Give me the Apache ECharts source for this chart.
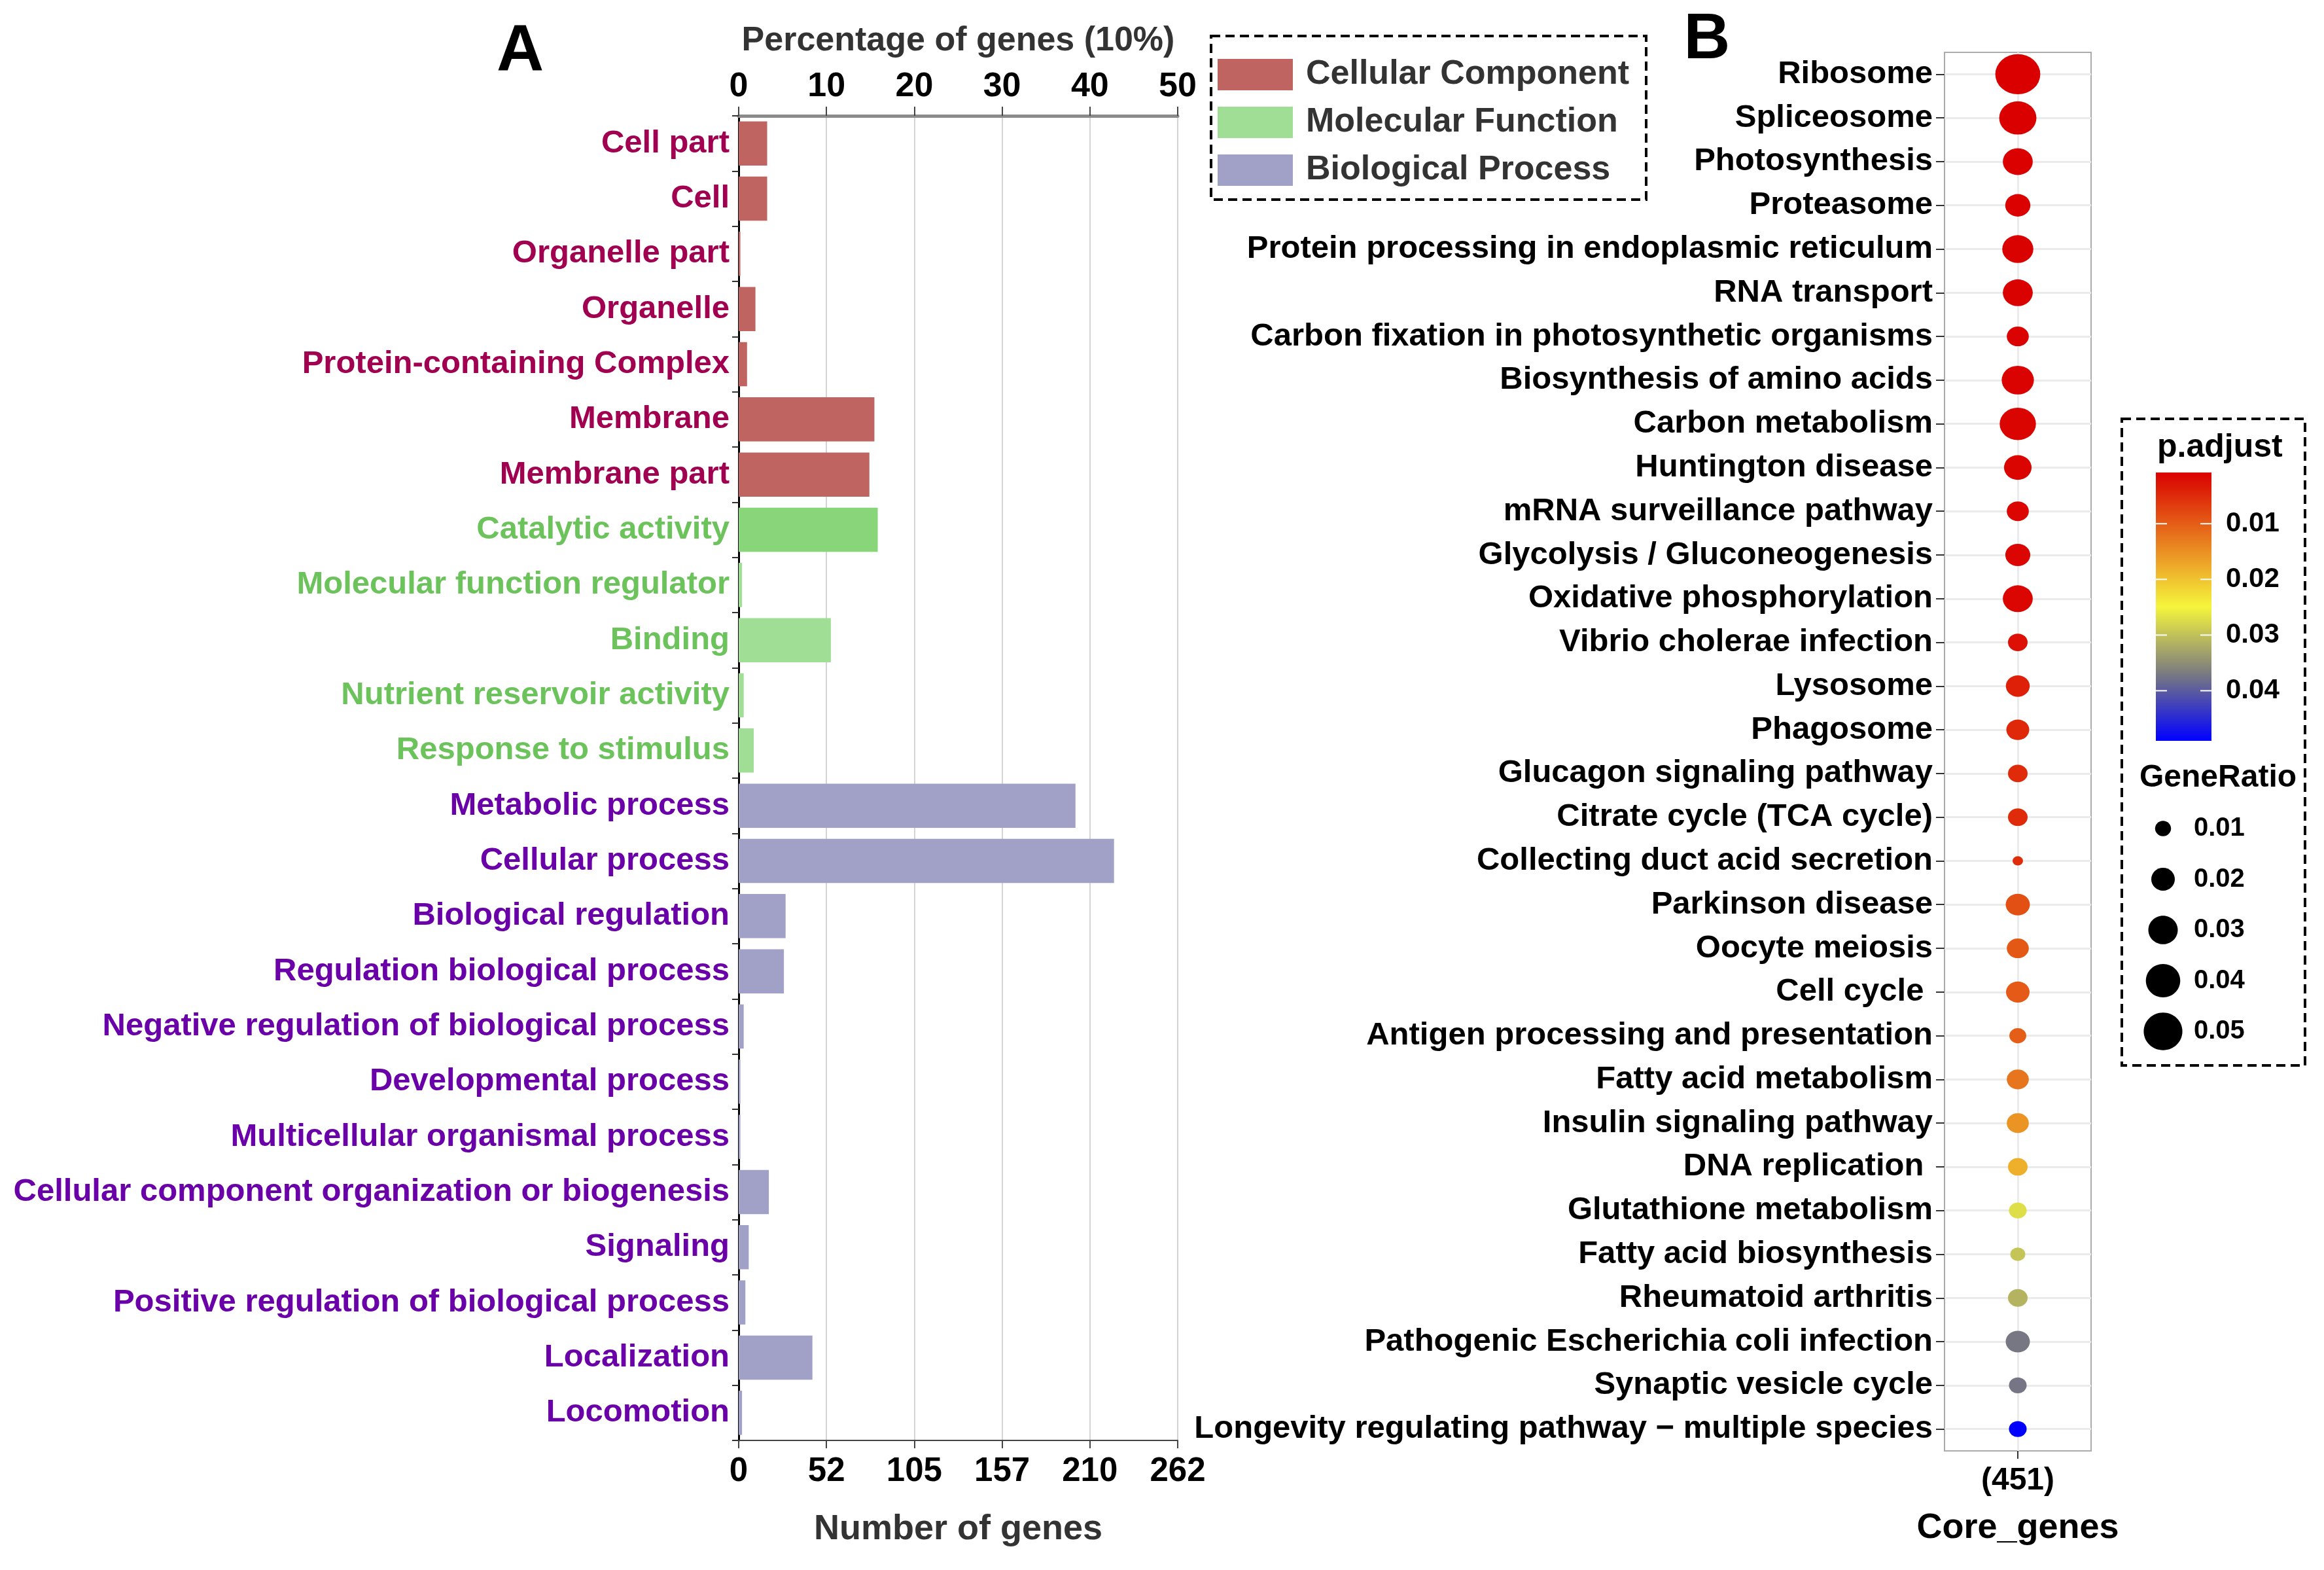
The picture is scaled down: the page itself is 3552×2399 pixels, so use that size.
<!DOCTYPE html>
<html><head><meta charset="utf-8">
<script src="https://cdn.jsdelivr.net/npm/echarts@6/dist/echarts.min.js"></script>
<style>html,body{margin:0;padding:0;background:#fff}#c{width:3552px;height:2399px}</style>
</head><body><div id="c"></div>
<script>
// ---------- Panel A data ----------
const goTerms = ['Cell part','Cell','Organelle part','Organelle','Protein-containing Complex','Membrane','Membrane part',
  'Catalytic activity','Molecular function regulator','Binding','Nutrient reservoir activity','Response to stimulus',
  'Metabolic process','Cellular process','Biological regulation','Regulation biological process',
  'Negative regulation of biological process','Developmental process','Multicellular organismal process',
  'Cellular component organization or biogenesis','Signaling','Positive regulation of biological process',
  'Localization','Locomotion'];
const goCounts = [17,17,1,10,5,81,78, 83,2,55,3,9, 201,224,28,27,3,1,1,18,6,4,44,2];
const goGroups = [0,0,0,0,0,0,0, 1,1,1,1,1, 2,2,2,2,2,2,2,2,2,2,2,2];
const groupNames = ['Cellular Component','Molecular Function','Biological Process'];
const countTicksMax = 262;
const pctTicksMax = 50;

// ---------- Panel B data ----------
const pathways = ['Ribosome','Spliceosome','Photosynthesis','Proteasome','Protein processing in endoplasmic reticulum',
  'RNA transport','Carbon fixation in photosynthetic organisms','Biosynthesis of amino acids','Carbon metabolism',
  'Huntington disease','mRNA surveillance pathway','Glycolysis / Gluconeogenesis','Oxidative phosphorylation',
  'Vibrio cholerae infection','Lysosome','Phagosome','Glucagon signaling pathway','Citrate cycle (TCA cycle)',
  'Collecting duct acid secretion','Parkinson disease','Oocyte meiosis','Cell cycle ','Antigen processing and presentation',
  'Fatty acid metabolism','Insulin signaling pathway','DNA replication ','Glutathione metabolism','Fatty acid biosynthesis',
  'Rheumatoid arthritis','Pathogenic Escherichia coli infection','Synaptic vesicle cycle',
  'Longevity regulating pathway \u2212 multiple species'];
const geneRatio = [0.0665,0.0466,0.0310,0.0225,0.0333,0.0310,0.0177,0.0355,0.0443,0.0266,0.0177,0.0222,0.0310,
  0.0144,0.0205,0.0190,0.0144,0.0144,0.0049,0.0210,0.0177,0.0200,0.0111,0.0177,0.0177,0.0144,0.0120,0.0089,
  0.0144,0.0210,0.0120,0.0120];
const pAdjust = [0.0008,0.0008,0.0009,0.0009,0.0010,0.0010,0.0011,0.0011,0.0012,0.0012,0.0013,0.0013,0.0014,
  0.0024,0.0040,0.0048,0.0050,0.0050,0.0052,0.0087,0.0095,0.0097,0.0101,0.0124,0.0154,0.0180,0.0272,0.0296,
  0.0313,0.0372,0.0374,0.0490];
const coreLabel = ['(451)'];
const pTicks = [0.01,0.02,0.03,0.04];
const ratioTicks = [0.01,0.02,0.03,0.04,0.05];

// ---------- styles ----------
const FF = '"Liberation Sans", Arial, Helvetica, sans-serif';
const barColors = ['#C06462','#A0DE96','#A1A0C7'];
const catalyticColor = '#89D67A';
const labelColors = ['#A0004F','#6CC35C','#6A00A8'];
const pColors = ['#DA0000','#E87A1E','#F5F53C','#7A7A80','#0000FF'];
const pMin = 0.0008, pMax = 0.049;
const sizeOf = r => 281 * Math.sqrt(r) - 3.7;
const dotAspect = 1.12;

const chart = echarts.init(document.getElementById('c'), null, {renderer: 'canvas'});

const barSeries = groupNames.map((gname, g) => ({
  name: gname,
  type: 'bar',
  stack: 'go',
  xAxisIndex: 0, yAxisIndex: 0,
  barWidth: '80%',
  itemStyle: {color: barColors[g]},
  data: goCounts.map((v, i) => goGroups[i] !== g ? '-' :
    (goTerms[i] === 'Catalytic activity' ? {value: v, itemStyle: {color: catalyticColor}} : v))
}));

// colorbar geometry
const cb = {x: 3295, y: 722, w: 85, h: 410};
const pToY = p => cb.y + (p - pMin) / (pMax - pMin) * cb.h;
const graphics = [
  {type:'text', style:{text:'A', x:795, y:80, font:'bold 100px ' + FF, fill:'#000', align:'center', verticalAlign:'middle'}},
  {type:'text', style:{text:'B', x:2609, y:62, font:'bold 98px ' + FF, fill:'#000', align:'center', verticalAlign:'middle'}},
  {type:'rect', shape:{x:1851, y:55, width:665, height:250}, style:{fill:'none', stroke:'#000', lineWidth:4, lineDash:[14,8]}},
  {type:'rect', shape:{x:3243, y:640, width:280, height:988}, style:{fill:'none', stroke:'#000', lineWidth:4, lineDash:[14,8]}},
  {type:'text', style:{text:'p.adjust', x:3297, y:684, font:'bold 50px ' + FF, fill:'#000', align:'left', verticalAlign:'middle'}},
  {type:'rect', shape:{x:cb.x, y:cb.y, width:cb.w, height:cb.h}, style:{
    fill: new echarts.graphic.LinearGradient(0,0,0,1, pColors.map((c,i)=>({offset:i/(pColors.length-1), color:c})))}},
  {type:'text', style:{text:'GeneRatio', x:3270, y:1189, font:'bold 48px ' + FF, fill:'#000', align:'left', verticalAlign:'middle'}}
];
pTicks.forEach(p => {
  const y = pToY(p);
  graphics.push({type:'line', shape:{x1:cb.x, y1:y, x2:cb.x+17, y2:y}, style:{stroke:'#fff', lineWidth:2}});
  graphics.push({type:'line', shape:{x1:cb.x+cb.w-17, y1:y, x2:cb.x+cb.w, y2:y}, style:{stroke:'#fff', lineWidth:2}});
  graphics.push({type:'text', style:{text:p.toFixed(2), x:3402, y:y, font:'bold 42px ' + FF, fill:'#000', align:'left', verticalAlign:'middle'}});
});
ratioTicks.forEach((r, i) => {
  const y = 1266 + i * 77.5;
  const d = sizeOf(r);
  graphics.push({type:'ellipse', shape:{cx:3306, cy:y, rx:d/2, ry:d/2/1.03}, style:{fill:'#000'}});
  graphics.push({type:'text', style:{text:r.toFixed(2), x:3353, y:y, font:'bold 40px ' + FF, fill:'#000', align:'left', verticalAlign:'middle'}});
});

const option = {
  backgroundColor: '#fff',
  animation: false,
  textStyle: {fontFamily: FF},
  grid: [
    {left: 1129, top: 177, width: 671, height: 2024, show: true, borderColor: '#444', borderWidth: 2, backgroundColor: 'transparent'},
    {left: 2972, top: 80, width: 224, height: 2137, show: true, borderColor: '#ABABAB', borderWidth: 2}
  ],
  legend: {
    data: groupNames,
    orient: 'vertical',
    left: 1861, top: 88,
    itemWidth: 115, itemHeight: 48, itemGap: 21,
    icon: 'rect',
    padding: 0,
    textStyle: {fontSize: 52, fontWeight: 'bold', color: '#333', fontFamily: FF, padding: [0,0,0,15]}
  },
  visualMap: {
    type: 'continuous', show: false, seriesIndex: 4, dimension: 3,
    min: pMin, max: pMax, inRange: {color: pColors}
  },
  xAxis: [
    {type: 'value', gridIndex: 0, position: 'bottom', min: 0, max: countTicksMax, interval: countTicksMax / 5,
     axisLine: {show: true, lineStyle: {color: '#444', width: 2}},
     axisTick: {show: true, length: 12, lineStyle: {color: '#444', width: 2}},
     axisLabel: {fontSize: 51, fontWeight: 'bold', color: '#000', margin: 22, formatter: v => String(Math.round(v))},
     splitLine: {show: true, lineStyle: {color: '#D4D4D4', width: 2}},
     name: 'Number of genes', nameLocation: 'middle', nameGap: 109,
     nameTextStyle: {fontSize: 54, fontWeight: 'bold', color: '#333'}},
    {type: 'value', gridIndex: 0, position: 'top', min: 0, max: pctTicksMax, interval: 10,
     axisLine: {show: true, lineStyle: {color: '#8A8A8A', width: 5}},
     axisTick: {show: true, length: 14, lineStyle: {color: '#444', width: 2}},
     axisLabel: {fontSize: 52, fontWeight: 'bold', color: '#000', margin: 18},
     splitLine: {show: false},
     name: 'Percentage of genes (10%)', nameLocation: 'middle', nameGap: 88,
     nameTextStyle: {fontSize: 52, fontWeight: 'bold', color: '#333'}},
    {type: 'category', gridIndex: 1, data: coreLabel, boundaryGap: true,
     axisLine: {show: false},
     axisTick: {show: true, alignWithLabel: true, length: 12, lineStyle: {color: '#333', width: 2}},
     axisLabel: {fontSize: 48, fontWeight: 'bold', color: '#000', margin: 22},
     splitLine: {show: false},
     name: 'Core_genes', nameLocation: 'middle', nameGap: 91,
     nameTextStyle: {fontSize: 54, fontWeight: 'bold', color: '#000'}}
  ],
  yAxis: [
    {type: 'category', gridIndex: 0, data: goTerms, inverse: true,
     axisLine: {show: true, lineStyle: {color: '#000', width: 3}},
     axisTick: {show: true, length: 10, lineStyle: {color: '#333', width: 2}},
     axisLabel: {fontSize: 49, fontWeight: 'bold', margin: 14, interval: 0,
       color: (v, i) => labelColors[goGroups[i]]},
     splitLine: {show: false}},
    {type: 'category', gridIndex: 1, data: pathways, inverse: true,
     axisLine: {show: false},
     axisTick: {show: true, alignWithLabel: true, length: 13, lineStyle: {color: '#333', width: 2}},
     axisLabel: {fontSize: 49, fontWeight: 'bold', color: '#000', margin: 18, interval: 0},
     splitLine: {show: false}}
  ],
  series: barSeries.concat([
    {type: 'scatter', xAxisIndex: 2, yAxisIndex: 1, z: 1, silent: true, symbolSize: 0,
     data: pathways.map(n => [coreLabel[0], n]),
     markLine: {z: 1, silent: true, symbol: ['none','none'], animation: false,
       label: {show: false}, lineStyle: {color: '#EBEBEB', width: 3, type: 'solid'},
       emphasis: {disabled: true},
       data: pathways.map(n => ({yAxis: n})).concat([{xAxis: coreLabel[0]}])}},
    {type: 'scatter', xAxisIndex: 2, yAxisIndex: 1, z: 3,
     encode: {x: 0, y: 1},
     itemStyle: {opacity: 1},
     symbolSize: v => { const d = sizeOf(v[2]); return [d, d / dotAspect]; },
     data: pathways.map((n, i) => [coreLabel[0], n, geneRatio[i], pAdjust[i]])}
  ]),
  graphic: graphics
};
chart.setOption(option);
</script></body></html>
